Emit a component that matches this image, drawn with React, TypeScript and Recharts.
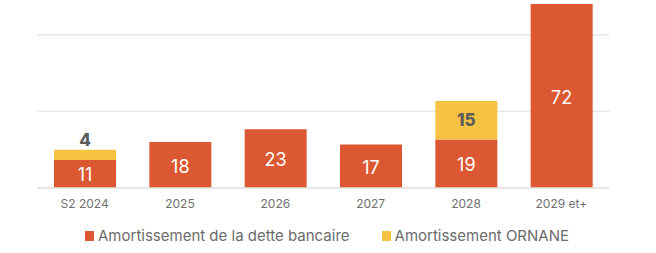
import { BarChart, Bar, XAxis, YAxis, CartesianGrid, Legend, LabelList } from 'recharts';

const categories = ['S2 2024', '2025', '2026', '2027', '2028', '2029 et+'];
const detteBancaire = [11, 18, 23, 17, 19, 72];
const ornane: (number | null)[] = [4, null, null, null, 15, null];
const yTicks = [0, 30, 60];

const RED = '#DC5832';
const YELLOW = '#F5C242';
const FONT = 'Inter, "Open Sans", sans-serif';

const data = categories.map((name, i) => ({
	name,
	dette: detteBancaire[i],
	ornane: ornane[i],
}));

const WhiteLabel = (props: any) => {
	const { x, y, width, height, value } = props;
	if (value == null) return null;
	return (
		<text
			x={x + width / 2}
			y={y + height / 2 + 1}
			fill="#fff"
			fontSize={18}
			fontFamily={FONT}
			textAnchor="middle"
			dominantBaseline="central"
		>
			{value}
		</text>
	);
};

// small ORNANE amounts don't fit inside the bar, put them on top
const OrnaneLabel = (props: any) => {
	const { x, y, width, height, value } = props;
	if (value == null) return null;
	const inside = height > 22;
	return (
		<text
			x={x + width / 2}
			y={inside ? y + height / 2 : y - 10}
			fill="#5c5c5c"
			fontSize={17}
			fontWeight={800}
			fontFamily={FONT}
			textAnchor="middle"
			dominantBaseline="central"
		>
			{value}
		</text>
	);
};

const LegendContent = () => {
	const items = [
		{ label: 'Amortissement de la dette bancaire', color: RED },
		{ label: 'Amortissement ORNANE', color: YELLOW },
	];
	return (
		<div
			style={{
				height: 35,
				display: 'flex',
				justifyContent: 'center',
				alignItems: 'center',
				gap: 32,
				fontFamily: FONT,
				fontSize: 15,
				color: '#6b6b6b',
				paddingLeft: 8,
			}}
		>
			{items.map((it) => (
				<div key={it.label} style={{ display: 'flex', alignItems: 'center' }}>
					<span style={{ width: 9, height: 10, background: it.color, marginRight: 4, display: 'inline-block' }} />
					{it.label}
				</div>
			))}
		</div>
	);
};

export default function App() {
	return (
		<div style={{ position: 'absolute', left: 0, top: 0, background: '#fff' }}>
			<BarChart
				width={656}
				height={253}
				data={data}
				margin={{ top: 4, right: 47, bottom: 0, left: 37 }}
			>
				<CartesianGrid vertical={false} stroke="#e6e6e6" strokeWidth={1.5} syncWithTicks />
				<XAxis
					dataKey="name"
					axisLine={{ stroke: '#e6e6e6', strokeWidth: 1.5 }}
					tickLine={false}
					height={30}
					tickMargin={5}
					tick={{ fill: '#707070', fontSize: 12, fontFamily: FONT }}
				/>
				<YAxis hide domain={[0, 72]} ticks={yTicks} />
				<Legend verticalAlign="bottom" content={<LegendContent />} />
				<Bar dataKey="dette" stackId="a" fill={RED} barSize={62} isAnimationActive={false}>
					<LabelList dataKey="dette" content={<WhiteLabel />} />
				</Bar>
				<Bar dataKey="ornane" stackId="a" fill={YELLOW} barSize={62} isAnimationActive={false}>
					<LabelList dataKey="ornane" content={<OrnaneLabel />} />
				</Bar>
			</BarChart>
		</div>
	);
}
